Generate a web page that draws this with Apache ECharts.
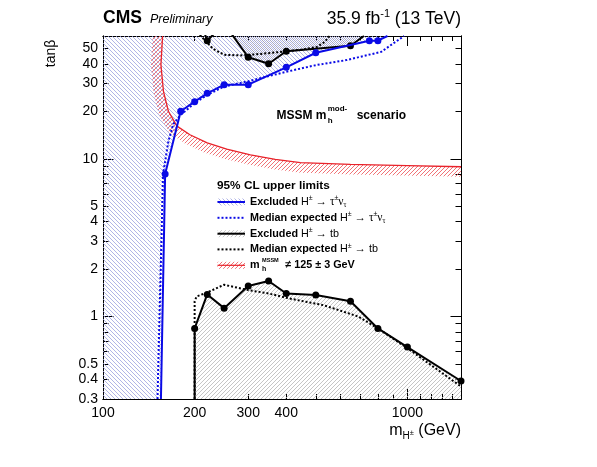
<!DOCTYPE html>
<html>
<head>
<meta charset="utf-8">
<script src="https://cdn.jsdelivr.net/npm/echarts@6/dist/echarts.min.js"></script>
<style>
  html, body { margin: 0; padding: 0; background: #fff; }
  #chart { width: 597px; height: 467px; }
</style>
</head>
<body>
<div id="chart"></div>
<script>
// values (mH+ in GeV, tanb)
var tauObsM  = [155, 160, 180, 200, 220, 250, 300, 400, 500, 750, 800, 860];
var tauObsTb = [0.3, 8, 20, 23, 26, 29.5, 29.5, 38, 47, 56, 56, 60];
var tauObsDots = [1, 2, 3, 4, 5, 6, 7, 8, 9, 10];
var tauExpM  = [151, 157.5, 164, 170, 180, 200, 220, 250, 300, 400, 500, 630, 820, 975];
var tauExpTb = [0.3, 8, 12.9, 16.5, 19, 22.5, 25.4, 28.7, 31, 35.6, 39.2, 42.2, 47.6, 60];

var tbLowObsM  = [200, 200, 220, 250, 300, 350, 400, 500, 650, 800, 1000, 1500];
var tbLowObsTb = [0.3, 0.84, 1.38, 1.13, 1.56, 1.68, 1.40, 1.37, 1.25, 0.84, 0.64, 0.39];
var tbLowObsDots = [1, 2, 3, 4, 5, 6, 7, 8, 9, 10, 11];
var tbLowExpM  = [200, 200, 203, 220, 250, 300, 350, 410, 530, 690, 800, 1000, 1500];
var tbLowExpTb = [0.3, 1.25, 1.34, 1.42, 1.59, 1.47, 1.40, 1.30, 1.18, 1.0, 0.84, 0.63, 0.36];

var tbHighObsM  = [216, 220, 250, 300, 350, 400, 650, 720];
var tbHighObsTb = [62, 56, 72, 44, 40, 48, 52, 60];
var tbHighObsDots = [1, 3, 4, 5, 6];
var tbHighExpM  = [208, 230, 250, 282, 330, 445, 505, 535, 555];
var tbHighExpTb = [61, 49.7, 45.6, 45.2, 46.2, 49, 51.2, 55, 60];

var mhM  = [157, 155, 158, 164, 175, 193, 220, 255, 305, 368, 445, 650, 1000, 1500];
var mhTb = [60, 39.4, 26.7, 20, 16.1, 14.2, 12.6, 11.5, 10.6, 9.9, 9.45, 9.2, 9.05, 8.9];

// axis ranges and ticks
var xRange = [100, 1500];
var yRange = [0.3, 60];
var xLabels = [100, 200, 300, 400, 1000];
var xTicksShort = [200, 300, 400, 500, 600, 700, 800, 900, 1100, 1200, 1300, 1400];
var xTicksLong = [1000];
var yLabels = [0.3, 0.4, 0.5, 1, 2, 3, 4, 5, 10, 20, 30, 40, 50];
var yTicksShort = [0.4, 0.5, 0.6, 0.7, 0.8, 0.9, 2, 3, 4, 5, 6, 7, 8, 9, 20, 30, 40, 50];
var yTicksLong = [1, 10];

var FONT = '"Liberation Sans", Arial, Helvetica, sans-serif';
var SERIF = '"Liberation Serif", "Times New Roman", serif';
var BLUE = '#0a0ae6';
var RED = '#e8222a';
var HATCH_BLUE = '#9da2e0';
var HATCH_GRAY = '#b6b6b6';
var HATCH_TOP = '#9393b0';
var HATCH_RED = '#ee6266';
var PERIOD = 4;

var lg = function (v) { return Math.log(v) / Math.LN10; };

// diagonal hatch segments inside a pixel polygon; dir > 0 is "/", dir < 0 is "\"
function hatchSegments(pts, dir, period, shift) {
  var U = function (p) { return dir > 0 ? p[0] + p[1] : p[0] - p[1]; };
  var V = function (p) { return dir > 0 ? p[0] - p[1] : p[0] + p[1]; };
  var us = pts.map(U), vs = pts.map(V);
  var umin = Math.min.apply(null, us), umax = Math.max.apply(null, us);
  var segs = [];
  for (var c = Math.floor(umin / period) * period + (shift || 0); c <= umax; c += period) {
    var hits = [];
    for (var i = 0; i < pts.length; i++) {
      var j = (i + 1) % pts.length;
      var ua = us[i], ub = us[j];
      if ((ua <= c && c < ub) || (ub <= c && c < ua)) {
        var t = (c - ua) / (ub - ua);
        hits.push(vs[i] + t * (vs[j] - vs[i]));
      }
    }
    hits.sort(function (a, b) { return a - b; });
    for (var k = 0; k + 1 < hits.length; k += 2) {
      segs.push([hits[k], hits[k + 1]].map(function (v) {
        return dir > 0 ? [(c + v) / 2, (c - v) / 2] : [(c + v) / 2, (v - c) / 2];
      }));
    }
  }
  return segs;
}

function hatchEls(pts, layers, z) {
  var els = [];
  layers.forEach(function (L) {
    hatchSegments(pts, L.dir, PERIOD, L.shift).forEach(function (s) {
      els.push({
        type: 'line', silent: true, z: z,
        shape: { x1: s[0][0], y1: s[0][1], x2: s[1][0], y2: s[1][1] },
        style: { stroke: L.color, lineWidth: L.width || 0.8 }
      });
    });
  });
  return els;
}

function fmt(v) { return String(parseFloat(Math.pow(10, v).toPrecision(3))); }

function toPts(ms, tbs) { return ms.map(function (m, i) { return [m, tbs[i]]; }); }

function lineData(ms, tbs, dots) {
  return ms.map(function (m, i) {
    var it = { value: [lg(m), lg(tbs[i])] };
    if (!dots || dots.indexOf(i) < 0) it.symbol = 'none';
    return it;
  });
}

var AX = { color: '#000', width: 1 };
function axis(pos, range, ticks, len, labels) {
  return {
    type: 'value', position: pos, min: lg(range[0]), max: lg(range[1]),
    axisLine: { show: true, onZero: false, lineStyle: AX },
    axisTick: { show: true, inside: true, length: len, customValues: ticks.map(lg), lineStyle: AX },
    axisLabel: labels ? {
      show: true, customValues: labels.map(lg), formatter: fmt,
      fontSize: 14, color: '#000', fontFamily: FONT, margin: pos === 'bottom' ? 7 : 5
    } : { show: false },
    splitLine: { show: false }
  };
}

function fillSeries(pts, layers, z) {
  return {
    type: 'custom', coordinateSystem: 'cartesian2d', clip: true, silent: true, z: z,
    data: [[2.5, 0]],
    renderItem: function (params, api) {
      var p = pts.map(function (q) { return api.coord([lg(q[0]), lg(q[1])]); });
      return { type: 'group', children: hatchEls(p, layers, z) };
    }
  };
}

// hatched band on the excluded side of the mh contour
function bandSeries(ms, tbs, width, layers, z) {
  return {
    type: 'custom', coordinateSystem: 'cartesian2d', clip: true, silent: true, z: z,
    data: [[2.5, 0]],
    renderItem: function (params, api) {
      var p = ms.map(function (m, i) { return api.coord([lg(m), lg(tbs[i])]); });
      var off = p.map(function (q, i) {
        var a = p[Math.max(i - 1, 0)], b = p[Math.min(i + 1, p.length - 1)];
        var dx = b[0] - a[0], dy = b[1] - a[1], l = Math.sqrt(dx * dx + dy * dy) || 1;
        return [q[0] - dy / l * width, q[1] + dx / l * width];
      });
      return { type: 'group', children: hatchEls(p.concat(off.reverse()), layers, z) };
    }
  };
}

function lineSeries(data, color, dashed, z) {
  return {
    type: 'line', data: data, z: z, silent: true, smooth: false,
    symbol: 'circle', symbolSize: 7, showSymbol: true,
    itemStyle: { color: color },
    lineStyle: { color: color, width: 2, type: dashed ? [2, 2] : 'solid' }
  };
}

var blueRegion = [[xRange[0], yRange[0]]].concat(toPts(tauObsM, tauObsTb), [[xRange[0], yRange[1]]]);
var topRegion = toPts(tbHighObsM, tbHighObsTb).concat([[tbHighObsM[tbHighObsM.length - 1], 80], [tbHighObsM[0], 80]]);
var lowRegion = toPts(tbLowObsM, tbLowObsTb).concat([[tbLowObsM[tbLowObsM.length - 1], yRange[0]]]);

var myChart = echarts.init(document.getElementById('chart'), null, { renderer: 'canvas' });

// legend rows
var legX = 217.5, legW = 27.5, txtX = 250;
var rowY = [202, 217.8, 233.7, 249.4, 265.3];
var rich = {
  b: { fontSize: 10.8, fontWeight: 'bold', fontFamily: FONT, fill: '#000' },
  n: { fontSize: 10.8, fontFamily: FONT, fill: '#000' },
  s: { fontSize: 11.5, fontFamily: SERIF, fill: '#000' },
  sup: { fontSize: 7, fontFamily: FONT, fill: '#000', padding: [0, 0, 7, 0] },
  sub: { fontSize: 7.5, fontFamily: SERIF, fill: '#000', padding: [6, 0, 0, 0] }
};
var rowText = [
  '{b|Excluded} {n|H}{sup|±}{s| → τ}{sup|±}{s|ν}{sub|τ}',
  '{b|Median expected} {n|H}{sup|±}{s| → τ}{sup|±}{s|ν}{sub|τ}',
  '{b|Excluded} {n|H}{sup|±}{s| →} {n|tb}',
  '{b|Median expected} {n|H}{sup|±}{s| →} {n|tb}'
];

function txt(x, y, text, font, align, extra) {
  var st = { text: text, x: x, y: y, font: font, fill: '#000', align: align || 'left', verticalAlign: 'middle' };
  if (extra) for (var k in extra) st[k] = extra[k];
  return { type: 'text', silent: true, z: 50, style: st };
}

var graphics = [
  txt(103, 18.5, 'CMS', 'bold 17.5px ' + FONT),
  txt(150, 20, 'Preliminary', 'italic 12.5px ' + FONT),
  txt(461, 19, '{n|35.9 fb}{sup|-1}{n| (13 TeV)}', '17.5px ' + FONT, 'right', {
    rich: {
      n: { fontSize: 17.5, fontFamily: FONT, fill: '#000' },
      sup: { fontSize: 11, fontFamily: FONT, fill: '#000', padding: [0, 0, 10, 0] }
    }
  }),
  {
    type: 'text', silent: true, z: 50, x: 51.5, y: 53.5, rotation: Math.PI / 2,
    style: { text: 'tanβ', font: '14px ' + FONT, fill: '#000', align: 'center', verticalAlign: 'middle' }
  },
  txt(461, 431, '{n|m}{sub|H}{ss|±}{n| (GeV)}', '16px ' + FONT, 'right', {
    rich: {
      n: { fontSize: 16, fontFamily: FONT, fill: '#000' },
      sub: { fontSize: 10, fontFamily: FONT, fill: '#000', padding: [10, 0, 0, 0] },
      ss: { fontSize: 7.5, fontFamily: FONT, fill: '#000', padding: [3, 0, 0, 0] }
    }
  }),
  // scenario label
  txt(326.5, 116, 'MSSM m', 'bold 12px ' + FONT, 'right'),
  txt(327.7, 108.5, 'mod-', 'bold 8px ' + FONT),
  txt(327.7, 121, 'h', 'bold 8px ' + FONT),
  txt(356.7, 116, 'scenario', 'bold 12px ' + FONT),
  // legend
  txt(legX - 0.5, 185.5, '95% CL upper limits', 'bold 11.8px ' + FONT)
];

rowText.forEach(function (t, i) {
  graphics.push(txt(txtX, rowY[i], t, '10.8px ' + FONT, 'left', { rich: rich }));
});
graphics.push(
  txt(txtX, rowY[4], 'm', 'bold 10.8px ' + FONT),
  txt(262, rowY[4] - 4.8, 'MSSM', 'bold 5.6px ' + FONT),
  txt(262, rowY[4] + 4, 'h', 'bold 7px ' + FONT),
  txt(285.3, rowY[4], '≠ 125 ± 3 GeV', 'bold 10.8px ' + FONT)
);

function icon(y, layers, color, dashed) {
  var g = [];
  if (layers) {
    var box = [[legX, y - 3.5], [legX + legW, y - 3.5], [legX + legW, y + 3.5], [legX, y + 3.5]];
    g = g.concat(hatchEls(box, layers, 50));
  }
  g.push({ type: 'line', silent: true, z: 51, shape: { x1: legX, y1: y, x2: legX + legW, y2: y },
    style: { stroke: color, lineWidth: color === RED ? 1.2 : 2, lineDash: dashed ? [2, 2] : null } });
  return g;
}

var blueL = [{ color: HATCH_BLUE, dir: -1, shift: 0 }];
var topL = [{ color: HATCH_TOP, dir: -1, shift: PERIOD / 2 }];
var grayL = [{ color: HATCH_GRAY, dir: 1, shift: 0 }];
var redL = [{ color: HATCH_RED, dir: 1, shift: 0, width: 0.9 }];

graphics = graphics.concat(
  icon(rowY[0], blueL, BLUE, false),
  icon(rowY[1], null, BLUE, true),
  icon(rowY[2], grayL, '#000', false),
  icon(rowY[3], null, '#000', true),
  icon(rowY[4], redL, RED, false)
);

var option = {
  animation: false,
  backgroundColor: '#fff',
  grid: { left: 103, right: 136, top: 36, bottom: 68, containLabel: false, outerBoundsMode: 'none' },
  xAxis: [
    axis('bottom', xRange, xTicksShort, 5, xLabels),
    axis('bottom', xRange, xTicksLong, 10, null),
    axis('top', xRange, xTicksShort, 5, null),
    axis('top', xRange, xTicksLong, 10, null)
  ],
  yAxis: [
    axis('left', yRange, yTicksShort, 5.5, yLabels),
    axis('left', yRange, yTicksLong, 10.5, null),
    axis('right', yRange, yTicksShort, 5.5, null),
    axis('right', yRange, yTicksLong, 10.5, null)
  ],
  series: [
    fillSeries(blueRegion, blueL, 1),
    fillSeries(topRegion, topL, 2),
    fillSeries(lowRegion, grayL, 2),
    bandSeries(mhM, mhTb, 10, redL, 3),
    {
      type: 'line', data: lineData(mhM, mhTb, null), z: 4, silent: true,
      symbol: 'none', lineStyle: { color: RED, width: 1.3 }
    },
    lineSeries(lineData(tauExpM, tauExpTb, null), BLUE, true, 5),
    lineSeries(lineData(tbLowExpM, tbLowExpTb, null), '#000', true, 5),
    lineSeries(lineData(tbHighExpM, tbHighExpTb, null), '#000', true, 5),
    lineSeries(lineData(tbLowObsM, tbLowObsTb, tbLowObsDots), '#000', false, 6),
    lineSeries(lineData(tbHighObsM, tbHighObsTb, tbHighObsDots), '#000', false, 6),
    lineSeries(lineData(tauObsM, tauObsTb, tauObsDots), BLUE, false, 7)
  ],
  graphic: graphics
};

myChart.setOption(option);
</script>
</body>
</html>
